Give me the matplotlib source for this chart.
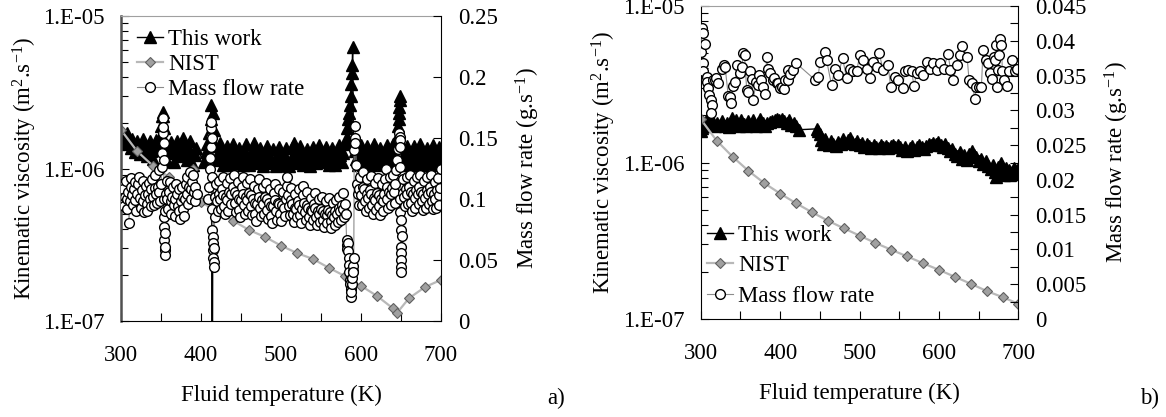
#viscosity and mass flow rate vs fluid temperature, panels a) and b)

import numpy as np
import matplotlib
matplotlib.use("Agg")
import matplotlib.pyplot as plt
from matplotlib.ticker import FixedLocator, FuncFormatter, MultipleLocator, LogLocator, NullFormatter

plt.rcParams['font.family'] = ['Liberation Serif', 'DejaVu Serif']
plt.rcParams['mathtext.fontset'] = 'custom'
plt.rcParams['mathtext.rm'] = 'Liberation Serif'
plt.rcParams['mathtext.it'] = 'Liberation Serif:italic'

# ---- panel a) : kinematic viscosity in 1e-6 m2/s, mass flow in g/s ----
a_work_T = [300, 302, 304, 306, 308, 310, 312, 314, 316, 318, 320, 322, 324, 326, 328, 330, 332, 334, 336, 338,
            340, 342, 344, 346, 348, 349, 350, 351, 352, 353, 354, 355, 356, 358, 360, 362, 364, 366, 368, 370,
            372, 374, 376, 378, 380, 382, 384, 386, 388, 390, 392, 394, 404, 406, 408, 410, 412, 413, 414, 415,
            416, 418, 420, 422, 424, 426, 428, 430, 432, 434, 436, 438, 440, 442, 444, 446, 448, 450, 452, 454,
            456, 458, 460, 462, 464, 466, 468, 470, 472, 474, 476, 478, 480, 482, 484, 486, 488, 490, 492, 494,
            496, 498, 500, 502, 504, 506, 508, 510, 512, 514, 516, 518, 520, 522, 524, 526, 528, 530, 532, 534,
            536, 538, 540, 542, 544, 546, 548, 550, 552, 554, 556, 558, 560, 562, 564, 566, 568, 570, 572, 574,
            576, 578, 580, 582, 583, 584, 585, 586, 587, 588, 588.5, 589, 589.6, 590.5, 592, 594, 596, 598, 600,
            602, 604, 606, 608, 610, 612, 614, 616, 618, 620, 622, 624, 626, 628, 630, 632, 634, 636, 638, 640,
            642, 644, 645, 646, 647, 647.5, 648, 648.5, 649, 650, 652, 654, 656, 658, 660, 662, 664, 666, 668,
            670, 672, 674, 676, 678, 680, 682, 684, 686, 688, 690, 692, 694, 696, 698, 700]
a_work_nu = [1.50, 1.66, 1.44, 1.58, 1.70, 1.48, 1.36, 1.56, 1.44, 1.28, 1.52, 1.40, 1.24, 1.42, 1.56, 1.34, 1.20, 1.40, 1.52, 1.30,
             1.16, 1.38, 1.54, 1.32, 1.46,
             1.60, 1.90, 2.20, 2.35, 2.20, 1.85, 1.50,
             1.26, 1.12, 1.34, 1.50, 1.28, 1.10, 1.32, 1.52, 1.38, 1.20, 1.44, 1.58, 1.30, 1.14, 1.38, 1.52, 1.24, 1.06, 1.22, 1.36,
             1.10, 1.28, 1.44, 1.70, 2.10, 2.60, 0.01, 2.30, 1.80, 1.40,
             1.14, 1.30, 1.46, 1.22, 1.06, 1.20, 1.40, 1.18, 1.05, 1.26, 1.44, 1.22, 1.08, 1.18, 1.36, 1.16, 1.05, 1.24, 1.44, 1.20,
             1.05, 1.16, 1.32, 1.48, 1.24, 1.08, 1.18, 1.36, 1.14, 1.04, 1.20, 1.40, 1.24, 1.08, 1.16, 1.34, 1.14, 1.04, 1.20, 1.38,
             1.16, 1.05, 1.22, 1.36, 1.14, 1.04, 1.16, 1.36, 1.46, 1.22, 1.08, 1.24, 1.40, 1.18, 1.06, 1.20, 1.34, 1.14, 1.04, 1.20,
             1.38, 1.22, 1.08, 1.18, 1.42, 1.26, 1.10, 1.22, 1.38, 1.18, 1.05, 1.22, 1.36, 1.16, 1.06, 1.24, 1.42, 1.22, 1.10, 1.26,
             1.44,
             1.60, 1.85, 2.10, 2.30, 2.60, 3.00, 3.60, 4.20, 4.80, 6.30, 1.50, 1.30,
             1.16, 1.06, 1.26, 1.42, 1.20, 1.06, 1.24, 1.40, 1.18, 1.05, 1.24, 1.44, 1.22, 1.08, 1.18, 1.36, 1.14, 1.05, 1.22, 1.42,
             1.26, 1.10, 1.28, 1.44, 1.22, 1.40,
             1.60, 1.90, 2.10, 2.30, 2.55, 2.80, 3.00, 1.30,
             1.18, 1.06, 1.24, 1.40, 1.16, 1.05, 1.22, 1.40, 1.18, 1.06, 1.26, 1.44, 1.20, 1.06, 1.18, 1.36, 1.22, 1.08, 1.26, 1.42,
             1.18, 1.06, 1.22, 1.38, 1.20]

a_nist_T = [300, 320, 340, 360, 380, 390, 400, 420, 440, 460, 480, 500, 520, 540, 560, 580, 600, 620, 640, 645, 660, 680, 700]
a_nist_nu = [1.79, 1.30, 1.04, 0.88, 0.78, 1.00, 0.605, 0.52, 0.455, 0.395, 0.356, 0.312, 0.279, 0.255, 0.223, 0.197,
             0.170, 0.146, 0.121, 0.113, 0.141, 0.167, 0.186]

a_flow_T = [300, 301, 302, 303, 304, 305, 306, 307, 308, 309, 310, 311, 312, 313, 314, 315, 316, 317, 318, 319,
            320, 321, 322, 324, 325, 326, 327, 328, 329, 330, 331, 332, 333, 334, 335, 336, 337, 338, 339, 340,
            341, 342, 343, 344, 345, 346, 347, 348, 349, 350, 351, 351.5, 352, 352.5, 353, 353.2, 353.4, 353.6, 353.8, 354,
            354.2, 354.4, 354.6, 354.8, 355, 355.5, 356, 357, 358, 359, 360, 361, 362, 363, 364, 365, 366, 367, 368, 369,
            370, 371, 372, 373, 374, 375, 376, 377, 378, 379, 380, 381, 382, 383, 384, 385, 386, 387, 388, 389,
            390, 391, 392, 393, 395, 409, 410, 411, 411.5, 412, 412.3, 412.6, 413, 413.3, 413.6, 414, 414.3, 414.6, 415, 415.3,
            415.6, 416, 416.3, 416.6, 417, 418, 419, 420, 421, 422, 423, 424, 425, 426, 427, 428, 429, 430, 431, 432,
            433, 434, 435, 436, 437, 438, 440, 441, 442, 443, 444, 445, 446, 447, 448, 449, 450, 451, 452, 453,
            454, 455, 456, 457, 458, 459, 460, 461, 462, 463, 464, 465, 466, 467, 468, 469, 470, 471, 472, 473,
            474, 475, 476, 477, 478, 479, 480, 481, 482, 483, 484, 485, 486, 487, 488, 489, 490, 491, 492, 493,
            494, 495, 496, 497, 498, 499, 500, 501, 502, 504, 505, 506, 507, 508, 509, 510, 511, 512, 513, 514,
            515, 516, 517, 518, 519, 520, 521, 522, 523, 524, 525, 526, 527, 528, 529, 530, 531, 532, 533, 534,
            535, 536, 537, 538, 539, 540, 541, 542, 543, 544, 545, 546, 547, 548, 549, 550, 551, 552, 553, 554,
            555, 556, 557, 558, 559, 560, 561, 562, 563, 564, 565, 566, 567, 568, 569, 570, 571, 572, 573, 574,
            575, 576, 577, 578, 579, 580, 581, 582, 582.5, 583, 583.5, 584, 584.5, 585, 585.5, 586, 586.5, 587, 587.5, 588,
            588.5, 589, 589.5, 590, 590.5, 591, 591.5, 592, 592.5, 593, 594, 595, 596, 597, 598, 599, 600, 601, 602, 603,
            604, 605, 606, 607, 608, 609, 610, 611, 612, 613, 614, 615, 616, 617, 618, 619, 620, 621, 622, 623,
            624, 625, 626, 627, 628, 629, 630, 631, 632, 633, 634, 635, 636, 637, 638, 639, 640, 641, 642, 643,
            644, 645, 646, 647, 648, 648.2, 648.4, 648.6, 648.8, 649, 649.2, 649.4, 649.6, 649.8, 650, 650.2, 650.4, 650.6, 651, 652,
            653, 654, 655, 656, 657, 658, 659, 660, 661, 662, 663, 664, 665, 666, 667, 668, 669, 670, 671, 672,
            673, 674, 675, 676, 677, 678, 679, 680, 681, 682, 683, 684, 685, 686, 687, 688, 689, 690, 691, 692,
            693, 694, 695, 696, 697, 698, 699, 700]
a_flow = [0.105, 0.112, 0.098, 0.108, 0.094, 0.102, 0.115, 0.100, 0.092, 0.106, 0.080, 0.098, 0.110, 0.117, 0.103, 0.095, 0.108, 0.114, 0.099, 0.090,
          0.104, 0.112, 0.118, 0.101, 0.093, 0.107, 0.115, 0.098, 0.089, 0.103, 0.111, 0.096, 0.090, 0.104, 0.113, 0.100, 0.094, 0.108, 0.116, 0.102,
          0.095, 0.109, 0.120, 0.104, 0.097, 0.110, 0.124, 0.106, 0.098, 0.112, 0.126, 0.138, 0.154, 0.166, 0.159, 0.146, 0.132, 0.100, 0.085, 0.077,
          0.066, 0.058, 0.054, 0.061, 0.072, 0.090, 0.104, 0.115, 0.100, 0.092, 0.106, 0.114, 0.098, 0.088, 0.102, 0.110, 0.095, 0.086, 0.100, 0.112,
          0.104, 0.094, 0.108, 0.090, 0.084, 0.098, 0.110, 0.102, 0.092, 0.086, 0.100, 0.112, 0.118, 0.104, 0.096, 0.110, 0.122, 0.108, 0.100, 0.114,
          0.120, 0.106, 0.098, 0.110, 0.104, 0.100, 0.110, 0.125, 0.134, 0.143, 0.151, 0.158, 0.163, 0.150, 0.118, 0.092, 0.075, 0.069, 0.064, 0.058,
          0.052, 0.048, 0.044, 0.060, 0.085, 0.102, 0.112, 0.098, 0.090, 0.104, 0.115, 0.100, 0.092, 0.108, 0.118, 0.103, 0.094, 0.088, 0.102, 0.113,
          0.099, 0.090, 0.106, 0.117, 0.104, 0.096, 0.110, 0.120, 0.106, 0.097, 0.089, 0.103, 0.114, 0.100, 0.091, 0.085, 0.099, 0.110, 0.118, 0.104,
          0.095, 0.088, 0.102, 0.113, 0.099, 0.090, 0.105, 0.116, 0.103, 0.094, 0.087, 0.100, 0.111, 0.097, 0.088, 0.082, 0.096, 0.108, 0.116, 0.102,
          0.093, 0.086, 0.099, 0.110, 0.096, 0.088, 0.102, 0.113, 0.100, 0.091, 0.084, 0.097, 0.108, 0.094, 0.086, 0.080, 0.094, 0.105, 0.112, 0.099,
          0.090, 0.083, 0.097, 0.108, 0.096, 0.088, 0.082, 0.095, 0.106, 0.093, 0.086, 0.100, 0.111, 0.118, 0.103, 0.094, 0.087, 0.099, 0.109, 0.096,
          0.088, 0.081, 0.093, 0.104, 0.092, 0.085, 0.098, 0.108, 0.095, 0.087, 0.080, 0.092, 0.103, 0.111, 0.097, 0.089, 0.083, 0.095, 0.106, 0.093,
          0.085, 0.079, 0.091, 0.101, 0.090, 0.083, 0.096, 0.105, 0.093, 0.085, 0.079, 0.090, 0.100, 0.088, 0.081, 0.092, 0.102, 0.090, 0.083, 0.077,
          0.088, 0.098, 0.087, 0.080, 0.091, 0.101, 0.089, 0.082, 0.076, 0.087, 0.097, 0.085, 0.079, 0.090, 0.099, 0.088, 0.081, 0.093, 0.102, 0.090,
          0.083, 0.095, 0.105, 0.092, 0.085, 0.096, 0.088, 0.066, 0.062, 0.059, 0.064, 0.057, 0.052, 0.046, 0.040, 0.034, 0.030, 0.026, 0.020, 0.024,
          0.030, 0.035, 0.041, 0.045, 0.040, 0.052, 0.140, 0.150, 0.160, 0.146, 0.128, 0.112, 0.104, 0.095, 0.108, 0.118, 0.103, 0.095, 0.110, 0.122,
          0.108, 0.098, 0.090, 0.104, 0.116, 0.101, 0.093, 0.107, 0.119, 0.104, 0.095, 0.088, 0.101, 0.113, 0.099, 0.091, 0.105, 0.117, 0.103, 0.094,
          0.087, 0.100, 0.112, 0.098, 0.090, 0.104, 0.116, 0.125, 0.110, 0.100, 0.093, 0.106, 0.118, 0.104, 0.095, 0.109, 0.120, 0.106, 0.097, 0.112,
          0.124, 0.132, 0.141, 0.148, 0.154, 0.151, 0.148, 0.143, 0.126, 0.100, 0.089, 0.083, 0.075, 0.061, 0.056, 0.050, 0.044, 0.040, 0.070, 0.105,
          0.116, 0.102, 0.094, 0.108, 0.118, 0.104, 0.096, 0.110, 0.120, 0.106, 0.097, 0.090, 0.104, 0.115, 0.101, 0.093, 0.107, 0.118, 0.104, 0.096,
          0.110, 0.120, 0.106, 0.098, 0.091, 0.104, 0.115, 0.101, 0.093, 0.107, 0.118, 0.104, 0.096, 0.110, 0.120, 0.106, 0.098, 0.092, 0.104, 0.114,
          0.100, 0.093, 0.107, 0.117, 0.103, 0.095, 0.109, 0.125]

# ---- panel b) ----
b_work_T = [300, 301, 302, 303, 305, 307, 309, 311, 313, 315, 318, 321, 324, 327, 330, 333, 336, 339, 342, 345,
            348, 351, 354, 357, 360, 363, 366, 369, 372, 375, 378, 381, 384, 387, 390, 393, 396, 399, 402, 405,
            408, 411, 414, 417, 420, 424, 446, 448, 450, 452, 454, 456, 458, 461, 464, 467, 470, 473, 476, 479,
            482, 485, 488, 491, 494, 497, 500, 503, 506, 509, 512, 515, 518, 521, 524, 527, 530, 533, 536, 539,
            542, 545, 548, 551, 554, 557, 560, 563, 566, 569, 572, 575, 578, 581, 584, 587, 590, 593, 596, 599,
            602, 605, 608, 611, 614, 617, 620, 623, 626, 629, 632, 635, 638, 641, 644, 647, 650, 653, 656, 659,
            662, 665, 668, 670, 672, 674, 676, 678, 680, 682, 684, 686, 688, 690, 692, 694, 696, 698, 700]
b_work_nu = [1.60, 1.72, 1.66, 1.80, 1.70, 1.84, 1.76, 1.88, 1.74, 1.82, 1.70, 1.80, 1.74, 1.84, 1.72, 1.78, 1.68, 1.92, 1.76, 1.86,
             1.70, 1.88, 1.76, 1.70, 1.84, 1.76, 1.86, 1.72, 1.80, 1.90, 1.78, 1.72, 1.80, 1.82, 1.84, 1.88, 1.90, 1.86, 1.90, 1.84,
             1.78, 1.86, 1.74, 1.80, 1.70, 1.62, 1.64, 1.60, 1.52, 1.40, 1.32, 1.42, 1.36, 1.30, 1.38, 1.32, 1.28, 1.36, 1.32, 1.42,
             1.34, 1.40, 1.44, 1.36, 1.32, 1.38, 1.30, 1.34, 1.26, 1.32, 1.28, 1.24, 1.30, 1.26, 1.23, 1.29, 1.25, 1.28, 1.23, 1.27,
             1.30, 1.26, 1.29, 1.25, 1.21, 1.26, 1.18, 1.23, 1.28, 1.20, 1.25, 1.30, 1.26, 1.22, 1.28, 1.32, 1.29, 1.34, 1.31, 1.36,
             1.30, 1.26, 1.32, 1.24, 1.18, 1.22, 1.14, 1.10, 1.16, 1.06, 1.11, 1.04, 1.14, 1.18, 1.12, 1.08, 1.02, 1.06, 0.98, 1.02,
             0.95, 0.91, 0.97, 0.87, 0.81, 0.93, 0.85, 0.99, 0.89, 0.83, 0.92, 0.85, 0.89, 0.83, 0.87, 0.92, 0.85, 0.89, 0.87]

b_nist_T = [300, 320, 340, 360, 380, 400, 420, 440, 460, 480, 500, 520, 540, 560, 580, 600, 620, 640, 660, 680, 700]
b_nist_nu = [1.89, 1.38, 1.09, 0.885, 0.738, 0.633, 0.549, 0.481, 0.425, 0.380, 0.341, 0.306, 0.277, 0.251, 0.227,
             0.206, 0.186, 0.168, 0.151, 0.138, 0.125]

b_flow_T = [300, 301.3, 303.3, 305.4, 302.5, 303.3, 307.5, 308, 309.6, 310.8, 312.6, 313.8, 312.6, 316, 317.4, 319.2, 322, 326.4, 329.2, 330.6,
            334.7, 336.3, 337.7, 340, 343.1, 346, 349.4, 352, 353.6, 355.1, 357.9, 359.8, 362, 364, 366.2, 369.6, 371.6, 373.7, 376.3, 378,
            381, 383, 385, 387.2, 390.6, 392.8, 395.6, 397.5, 399.7, 402.2, 404.6, 406, 409.3, 410.2, 413, 416.5, 419.9, 443.8, 447.9, 450,
            456.4, 458.5, 464.7, 468.9, 473.1, 478.6, 483.7, 487.8, 492, 496.2, 500.4, 503.8, 508.8, 513, 516.4, 521.4, 524.7, 529.7, 536, 539,
            544.4, 548.6, 554.1, 557, 561.1, 565.4, 568.7, 571.7, 575.9, 580, 584.3, 588.4, 592.6, 596.9, 601.9, 606, 611.5, 614.5, 617.8, 622.8,
            626.2, 629.6, 635.4, 637.9, 642.1, 645, 647.2, 650.4, 653.4, 655.5, 658.9, 661.8, 663.9, 667.3, 668.9, 670.2, 671.4, 673.1, 674.3, 675.6,
            677.4, 678.6, 679.9, 681.5, 685.7, 688.2, 692.5, 695.4, 698.4]
b_flow = [0.0384, 0.0418, 0.0411, 0.0396, 0.0368, 0.0356, 0.0348, 0.0341, 0.0332, 0.0322, 0.0315, 0.0308, 0.0296, 0.0344, 0.0343, 0.0346, 0.0339, 0.0360, 0.0365, 0.0363,
          0.0320, 0.0319, 0.0310, 0.0335, 0.0341, 0.0365, 0.0353, 0.0363, 0.0382, 0.0379, 0.0329, 0.0327, 0.0356, 0.0345, 0.0315, 0.0341, 0.0336, 0.0351, 0.0343, 0.0334,
          0.0324, 0.0377, 0.0360, 0.0353, 0.0344, 0.0346, 0.0339, 0.0339, 0.0332, 0.0334, 0.0331, 0.0344, 0.0343, 0.0358, 0.0352, 0.0358, 0.0368, 0.0344, 0.0348, 0.0370,
          0.0384, 0.0372, 0.0336, 0.0360, 0.0351, 0.0375, 0.0346, 0.0360, 0.0356, 0.0356, 0.0380, 0.0372, 0.0360, 0.0346, 0.0370, 0.0363, 0.0382, 0.0358, 0.0365, 0.0334,
          0.0348, 0.0344, 0.0332, 0.0356, 0.0358, 0.0356, 0.0335, 0.0353, 0.0356, 0.0351, 0.0370, 0.0360, 0.0368, 0.0358, 0.0368, 0.0360, 0.0381, 0.0358, 0.0344, 0.0365,
          0.0380, 0.0392, 0.0377, 0.0343, 0.0339, 0.0317, 0.0333, 0.0333, 0.0333, 0.0387, 0.0372, 0.0368, 0.0354, 0.0345, 0.0377, 0.0372, 0.0394, 0.0334, 0.0358, 0.0380,
          0.0403, 0.0394, 0.0356, 0.0344, 0.0335, 0.0356, 0.0373, 0.0356, 0.0360]

FS = 16.5


def draw_panel(ax, work_T, work_nu, nist_T, nist_nu, flow_T, flow, flow_max, flow_step, flow_minor, leg_loc, leg_anchor, leg_spacing):
    # viscosities are stored in units of 1e-6 m2/s
    l1, = ax.plot(work_T, np.array(work_nu) * 1e-6, color='black', lw=1.0, marker='^', ms=8.5, mec='black', mfc='black')
    l2, = ax.plot(nist_T, np.array(nist_nu) * 1e-6, color='#b8b8b8', lw=1.6, marker='D', ms=5, mfc='#a0a0a0', mec='#606060', mew=0.8)
    ax.set_yscale('log')
    ax.set_ylim(1e-7, 1e-5)
    ax.set_xlim(300, 700)
    ax.yaxis.set_major_locator(FixedLocator([1e-7, 1e-6, 1e-5]))
    ax.yaxis.set_major_formatter(FuncFormatter(lambda v, p: '1.E-%02d' % round(-np.log10(v))))
    ax.yaxis.set_minor_locator(LogLocator(subs=np.arange(2, 10)))
    ax.yaxis.set_minor_formatter(NullFormatter())
    ax.xaxis.set_major_locator(MultipleLocator(100))
    ax.xaxis.set_minor_locator(MultipleLocator(50))
    ax.tick_params(axis='y', which='major', direction='in', length=6, width=0.8, labelsize=FS, pad=12)
    ax.tick_params(axis='y', which='minor', direction='in', length=5, width=0.8)
    ax.tick_params(axis='x', which='both', direction='in', length=6, width=0.8, labelsize=FS, pad=17)
    ax.set_xlabel('Fluid temperature (K)', fontsize=FS, labelpad=14)
    ax.set_ylabel('Kinematic viscosity (m$^{2}$.s$^{-1}$)', fontsize=FS, labelpad=3)
    ax.spines['top'].set_color('#a0a0a0')
    ax.spines['right'].set_visible(False)

    ax2 = ax.twinx()
    l3, = ax2.plot(flow_T, flow, color='#8c8c8c', lw=0.8, marker='o', ms=7, mfc='white', mec='black', mew=1.0)
    ax2.set_ylim(0, flow_max)
    ax2.yaxis.set_major_locator(MultipleLocator(flow_step))
    if flow_minor:
        ax2.yaxis.set_minor_locator(MultipleLocator(flow_minor))
    ax2.yaxis.set_major_formatter(FuncFormatter(lambda v, p: '%g' % round(v, 4)))
    ax2.tick_params(axis='y', which='both', direction='in', length=6, width=0.8, labelsize=FS, pad=12)
    ax2.set_ylabel('Mass flow rate (g.s$^{-1}$)', fontsize=FS, labelpad=12)
    for s in ['left', 'top', 'bottom']:
        ax2.spines[s].set_visible(False)

    ax2.legend([l1, l2, l3], ['This work', 'NIST', 'Mass flow rate'], loc=leg_loc, bbox_to_anchor=leg_anchor,
               frameon=False, fontsize=FS, handlelength=1.15, handletextpad=0.2, labelspacing=leg_spacing,
               borderaxespad=0, borderpad=0, numpoints=1)
    return ax2


fig = plt.figure(figsize=(11.66, 4.17), dpi=100)

axa = fig.add_axes([0.1038, 0.2302, 0.2744, 0.7314])
draw_panel(axa, a_work_T, a_work_nu, a_nist_T, a_nist_nu, a_flow_T, a_flow, 0.25, 0.05, None,
           'upper left', (0.05, 0.956), 0.17)
axa.spines['left'].set_color('#505050')
axa.spines['left'].set_linewidth(1.8)

axb = fig.add_axes([0.601, 0.235, 0.2724, 0.7506])
draw_panel(axb, b_work_T, b_work_nu, b_nist_T, b_nist_nu, b_flow_T, b_flow, 0.045, 0.005, 0.0025,
           'lower left', (0.02, 0.039), 0.41)

fig.text(0.469, 0.03, 'a)', fontsize=FS)
fig.text(0.978, 0.03, 'b)', fontsize=FS)

fig.savefig('out.png', dpi=100)
